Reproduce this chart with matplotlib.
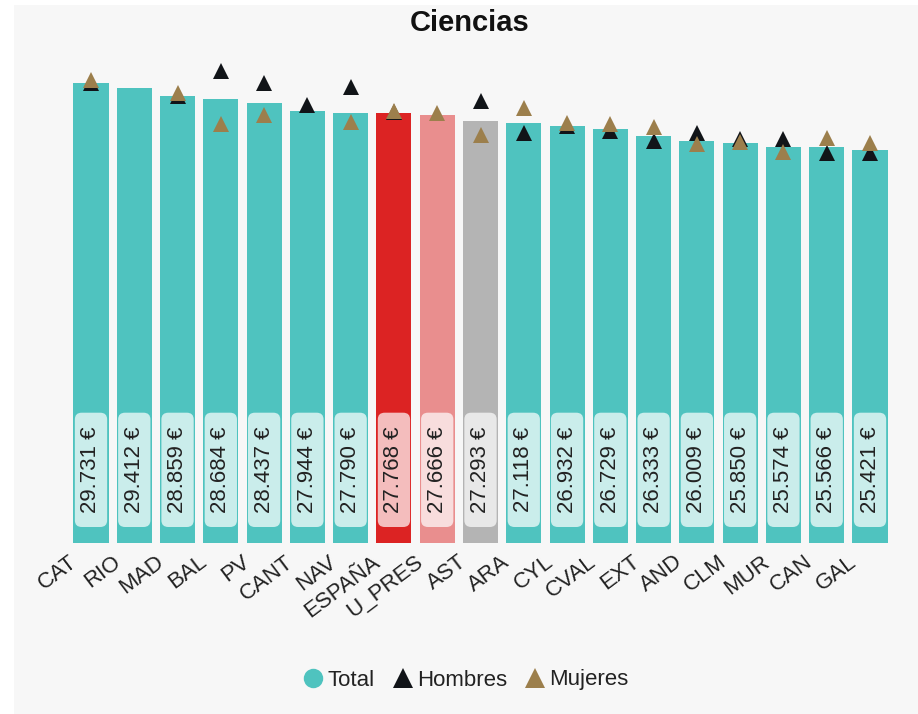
import matplotlib.pyplot as plt
import numpy as np
from matplotlib.patches import FancyBboxPatch, Rectangle
from matplotlib.lines import Line2D
import matplotlib.transforms as mtransforms

plt.rcParams['font.family'] = ['Liberation Sans', 'DejaVu Sans']

# data
regiones = ['CAT', 'RIO', 'MAD', 'BAL', 'PV', 'CANT', 'NAV', 'ESPAÑA', 'U_PRES', 'AST',
            'ARA', 'CYL', 'CVAL', 'EXT', 'AND', 'CLM', 'MUR', 'CAN', 'GAL']
total = [29731, 29412, 28859, 28684, 28437, 27944, 27790, 27768, 27666, 27293,
         27118, 26932, 26729, 26333, 26009, 25850, 25574, 25566, 25421]
hombres = [29763, np.nan, 28872, 30487, 29699, 28290, 29440, 27857, np.nan, 28548,
           26487, 26972, 26600, 26003, 26500, 26125, 26125, 25207, 25187]
mujeres = [29893, np.nan, 29085, 27068, 27643, np.nan, 27223, 27889, 27805, 26390,
           28128, 27146, 27085, 26887, 25809, 25918, 25259, 26196, 25853]

teal = '#4fc3bf'
colores = [teal] * len(regiones)
colores[regiones.index('ESPAÑA')] = '#dc2323'
colores[regiones.index('U_PRES')] = '#e98e8e'
colores[regiones.index('AST')] = '#b4b4b4'

fig = plt.figure(figsize=(9.18, 7.14), dpi=100, facecolor='white')
fig.patches.append(Rectangle((14 / 918, 0), 1, (714 - 5) / 714, transform=fig.transFigure,
                             facecolor='#f7f7f7', edgecolor='none', zorder=-10))

ax = fig.add_axes([60.7 / 918, (714 - 543) / 714, 839.6 / 918, 503 / 714])
ax.set_facecolor('none')
x = np.arange(len(regiones))
ax.bar(x, total, width=0.81, color=colores, zorder=1)

# value labels in rounded boxes
ylo, yhi = 1034, 8422
hw = 0.373
for i, v in enumerate(total):
    box = FancyBboxPatch((i - hw, ylo), 2 * hw, yhi - ylo,
                         boxstyle='round,pad=0,rounding_size=0.16',
                         mutation_aspect=2700, facecolor='white', alpha=0.7,
                         edgecolor='none', zorder=2)
    ax.add_patch(box)
    txt = f'{v:,}'.replace(',', '.') + ' €'
    ax.text(i, (ylo + yhi) / 2, txt, rotation=90, ha='center', va='center',
            fontsize=16, color='#222222', zorder=3)

ax.plot(x, hombres, linestyle='none', marker='^', ms=11, mew=0, color='#111418', zorder=4)
ax.plot(x, mujeres, linestyle='none', marker='^', ms=11, mew=0, color='#9c7f4c', zorder=5)

ax.set_xlim(-0.7, len(regiones) - 0.3)
ax.set_ylim(0, 32510)
ax.set_yticks([])
for s in ax.spines.values():
    s.set_visible(False)
ax.set_xticks(x)
ax.set_xticklabels(regiones, rotation=37, ha='right', fontsize=16, color='#222222')
ax.tick_params(axis='x', length=0, pad=6)
offset = mtransforms.ScaledTranslation(-10 / 100, 0, fig.dpi_scale_trans)
for lab in ax.get_xticklabels():
    lab.set_transform(lab.get_transform() + offset)

fig.text(470 / 918, 1 - 23 / 714, 'Ciencias', ha='center', va='center',
         fontsize=21, fontweight='bold', color='#111111')

handles = [
    Line2D([], [], linestyle='none', marker='o', ms=14, mew=0, color=teal),
    Line2D([], [], linestyle='none', marker='^', ms=14, mew=0, color='#111418'),
    Line2D([], [], linestyle='none', marker='^', ms=14, mew=0, color='#9c7f4c'),
]
fig.legend(handles, ['Total', 'Hombres', 'Mujeres'], loc='center',
           bbox_to_anchor=(466 / 918, 1 - 680 / 714), ncol=3, frameon=False,
           fontsize=16, handlelength=0.9, handletextpad=0.2, columnspacing=0.8,
           labelcolor='#222222')

fig.savefig('out.png', dpi=100, facecolor=fig.get_facecolor())
